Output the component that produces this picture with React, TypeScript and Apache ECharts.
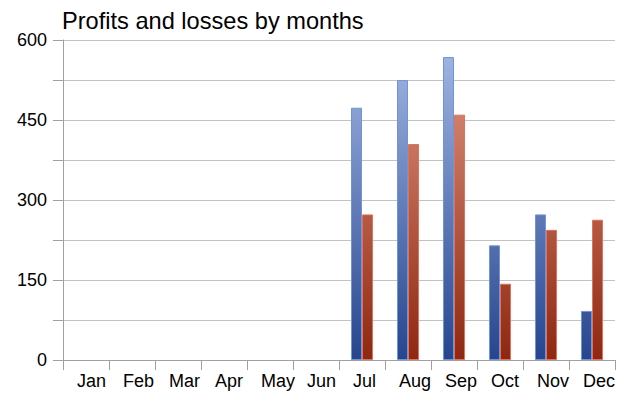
import React, { useEffect, useRef } from "react";
import * as echarts from "echarts";

const months = ["Jan", "Feb", "Mar", "Apr", "May", "Jun", "Jul", "Aug", "Sep", "Oct", "Nov", "Dec"];
const profits = [null, null, null, null, null, null, 473, 525, 568, 215, 273, 92];
const losses = [null, null, null, null, null, null, 273, 405, 460, 143, 244, 263];
const yTicks = [0, 150, 300, 450, 600];
const titleText = "Profits and losses by months";

const FONT = "'Liberation Sans', Arial, sans-serif";

export default function App() {
  const ref = useRef<HTMLDivElement>(null);
  useEffect(() => {
    const chart = echarts.init(ref.current!, null, { renderer: "svg" });
    const blueGrad = new echarts.graphic.LinearGradient(0, 40, 0, 360, [
      { offset: 0, color: "#A4B9E5" },
      { offset: 1, color: "#26458E" },
    ], true);
    const redGrad = new echarts.graphic.LinearGradient(0, 40, 0, 360, [
      { offset: 0, color: "#E39A85" },
      { offset: 1, color: "#8E2710" },
    ], true);
    chart.setOption({
      animation: false,
      backgroundColor: "#ffffff",
      title: {
        text: titleText,
        left: 57,
        top: 4,
        textStyle: { fontFamily: FONT, fontSize: 23.6, fontWeight: "normal", color: "#000" },
      },
      grid: { left: 63, top: 40, right: 18, bottom: 42, containLabel: false },
      xAxis: [
        {
          type: "category",
          data: months,
          boundaryGap: true,
          axisLine: { lineStyle: { color: "#A0A0A0", width: 1 } },
          axisTick: { show: true, length: 10, lineStyle: { color: "#A0A0A0" } },
          axisLabel: { show: false },
        },
        {
          type: "category",
          data: [...months, ""],
          boundaryGap: false,
          position: "bottom",
          axisLine: { show: false },
          axisTick: { show: false },
          axisLabel: {
            interval: 0,
            align: "left",
            padding: [0, 0, 0, 14],
            margin: 12,
            fontFamily: FONT,
            fontSize: 18,
            color: "#000",
          },
        },
      ],
      yAxis: {
        type: "value",
        min: 0,
        max: 600,
        interval: 75,
        axisLine: { show: true, lineStyle: { color: "#A0A0A0", width: 1 } },
        axisTick: { show: true, length: 10, lineStyle: { color: "#A0A0A0" } },
        splitLine: { show: true, lineStyle: { color: "#C2C2C2", width: 1 } },
        axisLabel: {
          margin: 16,
          fontFamily: FONT,
          fontSize: 18,
          color: "#000",
          formatter: (v: number) => (yTicks.includes(v) ? String(v) : ""),
        },
      },
      series: [
        {
          name: "Profits",
          type: "bar",
          xAxisIndex: 0,
          data: profits,
          barWidth: 11,
          barGap: "0%",
          itemStyle: { color: blueGrad, borderColor: "#7094D9", borderWidth: 1 },
        },
        {
          name: "Losses",
          type: "bar",
          xAxisIndex: 0,
          data: losses,
          barWidth: 11,
          barGap: "0%",
          itemStyle: { color: redGrad, borderColor: "#E2705A", borderWidth: 1 },
        },
      ],
    });
    return () => chart.dispose();
  }, []);
  return (
    <div
      ref={ref}
      style={{ position: "absolute", left: 0, top: 0, width: 633, height: 402 }}
    />
  );
}
